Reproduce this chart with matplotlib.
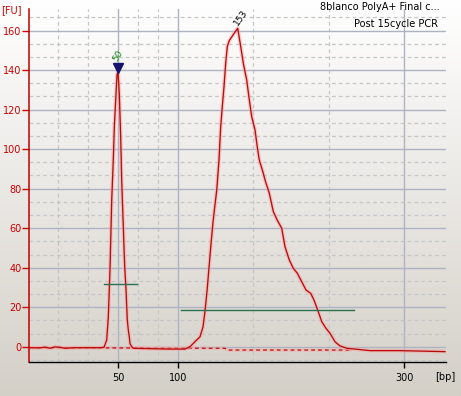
import numpy as np
import matplotlib.pyplot as plt
from matplotlib.colors import LinearSegmentedColormap

# electropherogram trace (migration position vs fluorescence units)
time = [30, 40, 45, 50, 55, 60, 65, 75, 90, 100, 104, 106.7, 108.3, 110, 111.7,
        113.3, 114.3, 115.7, 117, 118, 119.3, 120.7, 121.7, 123.3, 124.7, 126,
        127.3, 128.3, 129.3, 130, 131.7, 133.3, 150, 170, 185, 190, 196.7, 200,
        203, 205, 207, 209, 211, 213, 215, 216.7, 219, 220.7, 222.3, 224, 225.7,
        227.3, 229.3, 233.3, 237.7, 240.7, 243.3, 246.7, 249.3, 251.7, 255,
        257.3, 259.3, 263.3, 265, 269.3, 273.3, 277.3, 281.7, 285, 289.3, 293.3,
        297.3, 301.7, 306, 310.7, 314, 318.3, 321.7, 326, 330, 335, 340, 346.7,
        356.7, 370, 400, 445]
fu = [-0.5, -0.6, -0.2, -0.8, -0.1, -0.3, -0.8, -0.5, -0.5, -0.5, -0.3, 3.4,
      15, 39, 74, 94.5, 111, 125, 137.5, 139.5, 128, 106, 84, 61, 40.5, 29,
      13.5, 8.5, 5, 1.5, 0, -0.8, -1.0, -1.2, -1.2, 0, 3.4, 5, 10, 18, 28, 40,
      52, 63, 72, 79, 94.5, 111.4, 121.5, 131.6, 143.5, 152, 155, 158, 161.2,
      152, 143.5, 135, 125, 116.5, 109.7, 101, 94.5, 87.8, 84.4, 77.7, 68.4, 64,
      60, 50.6, 43.9, 39.7, 37.2, 32.9, 28.7, 27, 23.6, 17.7, 12.7, 9.3, 6.8,
      2.5, 0.4, -0.8, -1.3, -2.0, -2.0, -2.5]

# baseline (dashed)
base_time = [30, 225, 227, 350]
base_fu = [-0.5, -0.8, -1.7, -1.7]

# peak regions (green bars)
reg1_time = [104, 137]
reg1_fu = [31.6, 31.6]
reg2_time = [181, 353.7]
reg2_fu = [18.4, 18.4]

# peak labels
peak1_pos, peak1_fu, peak1_label = 118.3, 141, '50'
peak2_pos, peak2_label = 240.8, '153'

# bp axis
bp_pos = [118.3, 177.7, 404.3]
bp_labels = ['50', '100', '300']
bp_minor = [58.3, 88.3, 137.8, 157.6, 253.2, 328.8]
fu_major = list(range(0, 161, 20))

plt.rcParams['font.family'] = 'DejaVu Sans'
W, H = 461, 396
fig = plt.figure(figsize=(W / 100, H / 100), dpi=100)

# gradient background
bg = fig.add_axes([0, 0, 1, 1], zorder=-10)
cmap = LinearSegmentedColormap.from_list('bg', ['#ffffff', '#d4d0c8'])
bg.imshow(np.linspace(0, 1, 256).reshape(-1, 1), aspect='auto', cmap=cmap,
          extent=[0, 1, 0, 1])
bg.axis('off')

ax = fig.add_axes([29.3 / W, 34 / H, 416.4 / W, 352.7 / H])
ax.set_facecolor('none')
ax.set_xlim(29.3, 445.7)
ax.set_ylim(-7.75, 170.8)

ax.set_yticks(fu_major)
ax.set_yticks([v * 20 / 3 for v in range(-1, 26) if v % 3 != 0], minor=True)
ax.set_xticks(bp_pos)
ax.set_xticklabels(bp_labels)
ax.set_xticks(bp_minor, minor=True)

ax.grid(which='major', color='#aeb3c3', lw=1)
ax.grid(which='minor', color='#c6c6c6', lw=0.9, ls=(0, (3, 2.5)))
ax.set_axisbelow(True)

ax.tick_params(axis='y', which='major', colors='#cc0000', length=5,
               width=1, pad=0.5, labelsize=7)
ax.tick_params(axis='x', which='major', colors='black', length=4.3,
               width=1, pad=3.5, labelsize=7)
ax.tick_params(which='minor', length=0)

for s in ['top', 'right']:
    ax.spines[s].set_visible(False)
ax.spines['left'].set_color('#c00000')
ax.spines['left'].set_linewidth(1.1)
ax.spines['bottom'].set_color('black')
ax.spines['bottom'].set_linewidth(1)

# trace with glow
ax.plot(base_time, base_fu, color='#f4a8a8', lw=2.6, alpha=0.45)
ax.plot(base_time, base_fu, color='#b80c0c', lw=0.9, ls=(0, (3, 2.5)))
ax.plot(time, fu, color='#f4a8a8', lw=2.8, alpha=0.55, solid_joinstyle='round')
ax.plot(time, fu, color='#b80c0c', lw=0.95)

ax.plot(reg1_time, reg1_fu, color='#2a7050', lw=1)
ax.plot(reg2_time, reg2_fu, color='#2a7050', lw=1)

ax.plot(peak1_pos, peak1_fu, marker='v', color='#14146e', ms=7, ls='none')
ax.text(peak1_pos, 147.2, peak1_label, rotation=60, color='#1a8c1a',
        fontsize=6.5, ha='center', va='center')
ax.text(peak2_pos, 166.9, peak2_label, rotation=55, color='black',
        fontsize=6.5, ha='center', va='center', clip_on=False)

fig.text(1 / W, 1 - 10 / H, '[FU]', color='#cc0000', fontsize=7,
         ha='left', va='center')
fig.text(445 / W, 1 - 377 / H, '[bp]', color='black', fontsize=7,
         ha='center', va='center')
fig.text(440 / W, 1 - 7.5 / H, '8blanco PolyA+ Final c...', color='black',
         fontsize=7, ha='right', va='center')
fig.text(438 / W, 1 - 24 / H, 'Post 15cycle PCR', color='black',
         fontsize=7, ha='right', va='center')

fig.savefig('out.png', dpi=100)
